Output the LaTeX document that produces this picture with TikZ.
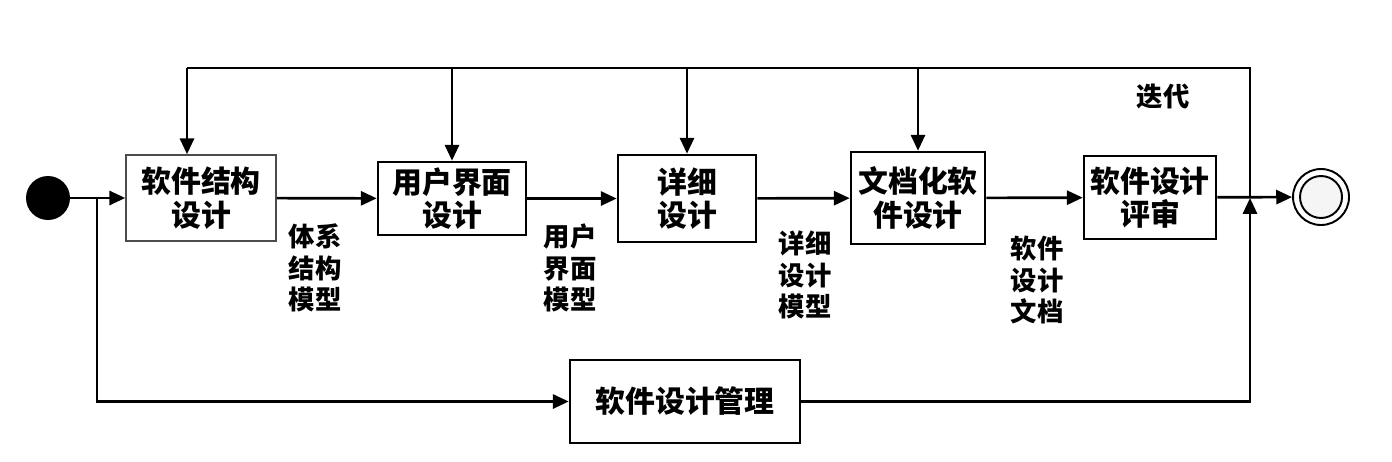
\documentclass[tikz,border=0pt]{standalone}
\usepackage{fontspec}
\newfontfamily\cjk{Noto Sans CJK SC}
\usetikzlibrary{arrows.meta,positioning,calc}

\begin{document}
\begin{tikzpicture}[
    x=0.02cm, y=-0.02cm,
    box/.style={rectangle, draw, line width=1.5pt, inner sep=0pt, align=center, font=\cjk\bfseries\fontsize{17}{19}\selectfont},
    lbl/.style={align=center, inner sep=0pt, font=\cjk\bfseries\fontsize{15}{18}\selectfont},
    arrow/.style={-{Triangle[length=9pt, width=8pt]}, line width=1.5pt},
    line/.style={line width=1.5pt}
]
\useasboundingbox (0,0) rectangle (1392,461);

% Start and end
\node[circle, fill=black, minimum size=0.88cm, inner sep=0pt] (start) at (48,198) {};
\node[circle, draw, line width=1.1pt, minimum size=1.12cm, inner sep=0pt] (end) at (1321,197) {};
\draw[line width=1.1pt, fill=black!4] (end.center) circle[radius=0.42cm];

% Activities
\node[box, draw=black!70, line width=0.9pt, minimum width=3cm, minimum height=1.72cm] (b1) at (201,198) {软件结构\\设计};
\node[box, minimum width=2.96cm, minimum height=1.46cm] (b2) at (452,198.5) {用户界面\\设计};
\node[box, minimum width=2.76cm, minimum height=1.74cm] (b3) at (687,198.5) {详细\\设计};
\node[box, minimum width=2.68cm, minimum height=1.84cm] (b4) at (918,198) {文档化软\\件设计};
\node[box, minimum width=2.64cm, minimum height=1.66cm] (b5) at (1150,197.5) {软件设计\\评审};
\node[box, minimum width=4.6cm, minimum height=1.66cm] (mgmt) at (685,401.5) {软件设计管理};

% Junctions
\coordinate (split) at (97,198);
\coordinate (join) at (1250,198);
\coordinate (tl) at (187,68);
\coordinate (tr) at (1250,68);

% Main flow
\draw[arrow] (start) -- (b1);
\draw[arrow] (b1) -- (b2);
\draw[arrow] (b2) -- (b3);
\draw[arrow] (b3) -- (b4);
\draw[arrow] (b4) -- (b5);
\draw[arrow] (b5) -- (end);

% Iteration loop
\draw[line] (join) -- (tr) -- (tl);
\draw[arrow] (tl) -- (tl |- b1.north);
\foreach \b in {b2,b3,b4}
    \draw[arrow] (\b.north |- tl) -- (\b);

% Management path
\draw[arrow] (split) |- (mgmt);
\draw[arrow] (mgmt) -| (join);

% Labels
\node[lbl] (m1) at (315,268) {体系\\结构\\模型};
\node[lbl] (m2) at (570,268) {用户\\界面\\模型};
\node[lbl] (m3) at (805,275) {详细\\设计\\模型};
\node[lbl] (m4) at (1037,280) {软件\\设计\\文档};
\node[lbl] (iter) at (1163,96) {迭代};

\end{tikzpicture}
\end{document}
